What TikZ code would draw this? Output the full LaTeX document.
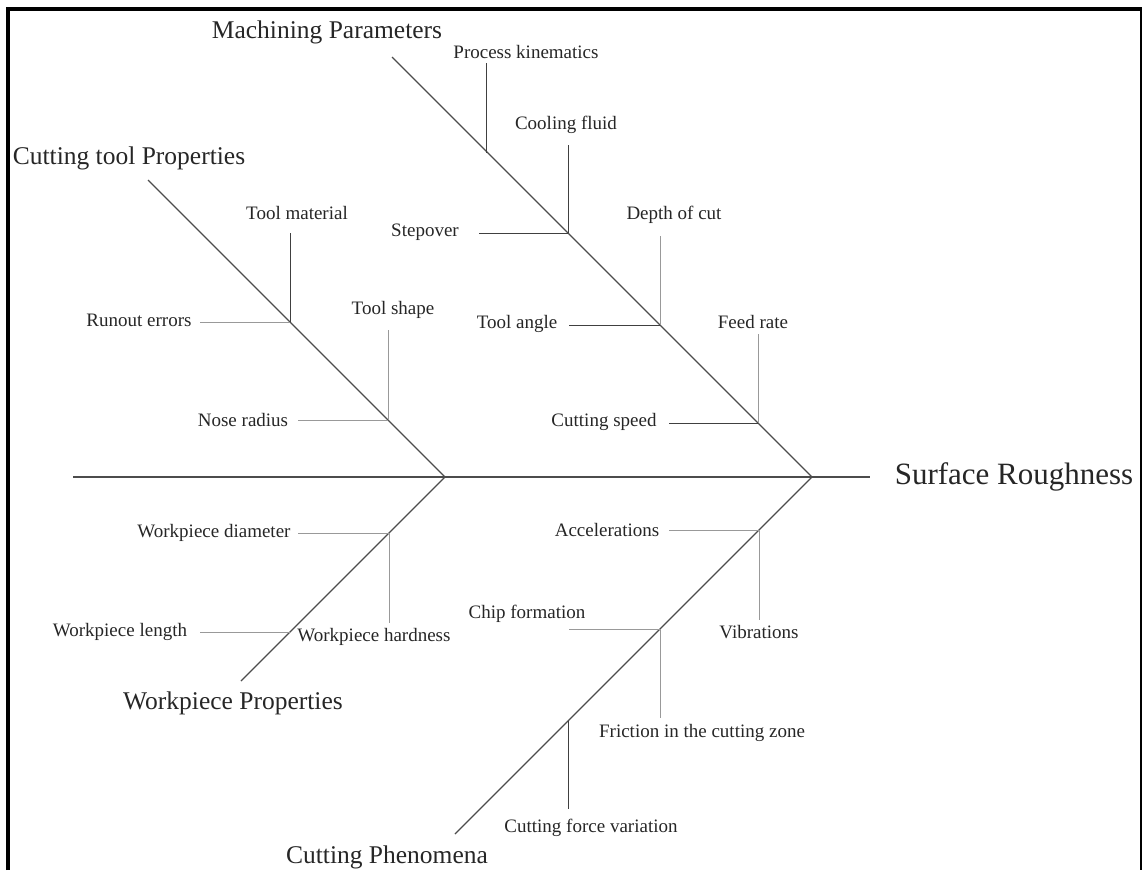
\documentclass[tikz,border=0pt]{standalone}
\usepackage{fontspec}
\setmainfont{Liberation Serif}
\begin{document}
\begin{tikzpicture}[x=1pt,y=-1pt,
  lbl/.style={inner sep=0pt,anchor=center,font=\fontsize{19}{22}\selectfont,text=black!85},
  ttl/.style={inner sep=0pt,anchor=center,font=\fontsize{25.5}{30}\selectfont,text=black!85},
  big/.style={inner sep=0pt,anchor=center,font=\fontsize{31}{36}\selectfont,text=black!85},
  bone/.style={draw=black!70,line width=1.1pt},
  twig/.style={draw=black!75,line width=1pt},
  twiglight/.style={draw=black!40,line width=1pt},
  frame/.style={draw=black,line width=4pt}]
\useasboundingbox (0,0) rectangle (1142,870);
% frame
\coordinate (FA) at (8,870);
\coordinate (FB) at (8,9);
\coordinate (FC) at (1141.5,9);
\coordinate (FD) at (1141.5,870);
\draw[frame] (FA) -- (FB) -- (FC) -- (FD);
% spine
\coordinate (S0) at (73,477);
\coordinate (S1) at (870,477);
\coordinate (JL) at (445,477);
\coordinate (JR) at (812,477);
\draw[bone] (S0) -- (S1);
% bones
\coordinate (M0) at (392,57);
\coordinate (T0) at (148,180);
\coordinate (W0) at (241,681);
\coordinate (P0) at (455,834);
\draw[bone] (M0) -- (JR);
\draw[bone] (T0) -- (JL);
\draw[bone] (JL) -- (W0);
\draw[bone] (JR) -- (P0);
% titles
\node[ttl] (tMP) at (327,32) {Machining Parameters};
\node[ttl] (tCT) at (129,158) {Cutting tool Properties};
\node[ttl] (tWP) at (233,703) {Workpiece Properties};
\node[ttl] (tCP) at (387,857) {Cutting Phenomena};
\node[big] (tSR) at (1014,477) {Surface Roughness};
% Machining parameters
\coordinate (pkT) at (486,63);  \coordinate (pkB) at (486,153);
\coordinate (cfT) at (568,145); \coordinate (cfB) at (568,233);
\coordinate (soL) at (479,233);
\coordinate (dcT) at (660,236); \coordinate (dcB) at (660,325);
\coordinate (taL) at (569,325);
\coordinate (frT) at (758,334); \coordinate (frB) at (758,423);
\coordinate (csL) at (669,423);
\draw[twig] (pkT) -- (pkB);
\draw[twig] (cfT) -- (cfB);
\draw[twig] (soL) -- (cfB);
\draw[twiglight] (dcT) -- (dcB);
\draw[twig] (taL) -- (dcB);
\draw[twiglight] (frT) -- (frB);
\draw[twig] (csL) -- (frB);
\node[lbl] (lPK) at (526,52) {Process kinematics};
\node[lbl] (lCF) at (566,125) {Cooling fluid};
\node[lbl] (lSO) at (425,232) {Stepover};
\node[lbl] (lDC) at (674,215) {Depth of cut};
\node[lbl] (lTA) at (517,324) {Tool angle};
\node[lbl] (lFR) at (753,322) {Feed rate};
\node[lbl] (lCS) at (604,422) {Cutting speed};
% Cutting tool properties
\coordinate (tmT) at (290,233); \coordinate (tmB) at (290,322);
\coordinate (reL) at (200,322);
\coordinate (tsT) at (388,330); \coordinate (tsB) at (388,420);
\coordinate (nrL) at (298,420);
\draw[twig] (tmT) -- (tmB);
\draw[twiglight] (reL) -- (tmB);
\draw[twiglight] (tsT) -- (tsB);
\draw[twiglight] (nrL) -- (tsB);
\node[lbl] (lTM) at (297,213) {Tool material};
\node[lbl] (lRE) at (139,320) {Runout errors};
\node[lbl] (lTS) at (393,310) {Tool shape};
\node[lbl] (lNR) at (243,420) {Nose radius};
% Workpiece properties
\coordinate (wdL) at (298,533); \coordinate (wdB) at (389,533);
\coordinate (whB) at (389,623);
\coordinate (wlL) at (200,632); \coordinate (wlB) at (290,632);
\draw[twiglight] (wdL) -- (wdB);
\draw[twiglight] (wdB) -- (whB);
\draw[twiglight] (wlL) -- (wlB);
\node[lbl] (lWD) at (214,533) {Workpiece diameter};
\node[lbl] (lWH) at (374,637) {Workpiece hardness};
\node[lbl] (lWL) at (120,632) {Workpiece length};
% Cutting phenomena
\coordinate (acL) at (669,530); \coordinate (acB) at (759,530);
\coordinate (viB) at (759,620);
\coordinate (chL) at (569,629); \coordinate (chB) at (660,629);
\coordinate (fzB) at (660,718);
\coordinate (fvT) at (568,721); \coordinate (fvB) at (568,809);
\draw[twiglight] (acL) -- (acB);
\draw[twiglight] (acB) -- (viB);
\draw[twiglight] (chL) -- (chB);
\draw[twiglight] (chB) -- (fzB);
\draw[twig] (fvT) -- (fvB);
\node[lbl] (lAC) at (607,530) {Accelerations};
\node[lbl] (lVI) at (759,632) {Vibrations};
\node[lbl] (lCH) at (527,614) {Chip formation};
\node[lbl] (lFZ) at (702,733) {Friction in the cutting zone};
\node[lbl] (lFV) at (591,828) {Cutting force variation};
\end{tikzpicture}
\end{document}
